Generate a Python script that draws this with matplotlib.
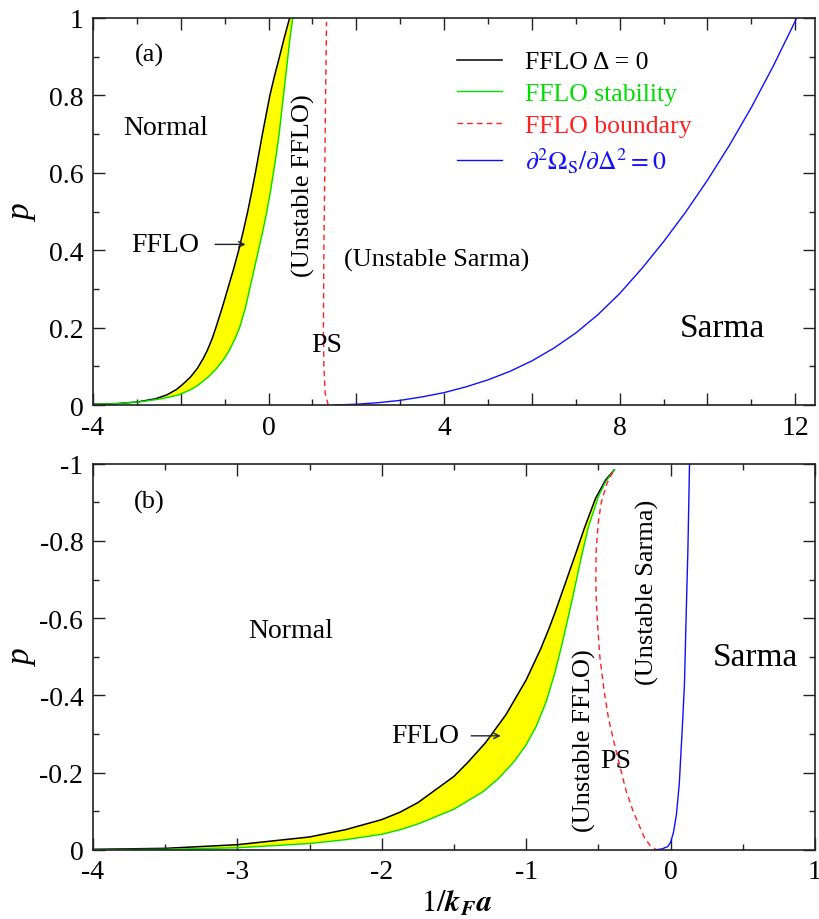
import numpy as np
import matplotlib
matplotlib.use("Agg")
import matplotlib.pyplot as plt
from matplotlib.ticker import MultipleLocator, FuncFormatter

plt.rcParams['font.family'] = ['Liberation Serif', 'DejaVu Serif']
plt.rcParams['mathtext.fontset'] = 'stix'

# ---------------- Panel (a) data ----------------
top_p = [0.002, 0.003, 0.008, 0.016, 0.026, 0.04, 0.052, 0.072, 0.095, 0.12, 0.14, 0.17, 0.2, 0.25,
         0.3, 0.35, 0.4, 0.45, 0.5, 0.55, 0.6, 0.65, 0.7, 0.75, 0.8, 0.85, 0.9, 0.95, 1.0]
top_black_x = [-4.0, -3.5, -2.98, -2.58, -2.32, -2.1, -1.97, -1.78, -1.62, -1.49, -1.40, -1.29, -1.2, -1.06,
               -0.93, -0.80, -0.68, -0.575, -0.475, -0.385, -0.30, -0.22, -0.14, -0.055, 0.03, 0.135, 0.25, 0.36, 0.48]
top_green_x = [-3.95, -3.55, -2.95, -2.45, -2.05, -1.77, -1.6, -1.38, -1.18, -1.01, -0.9, -0.77, -0.66, -0.53,
               -0.43, -0.33, -0.23, -0.13, -0.04, 0.04, 0.11, 0.18, 0.24, 0.29, 0.34, 0.39, 0.44, 0.49, 0.55]
top_red_p = [0.0, 0.03, 0.1, 0.2, 0.4, 0.6, 0.8, 0.99]
top_red_x = [1.36, 1.29, 1.26, 1.25, 1.26, 1.28, 1.30, 1.32]
top_blue_x = [1.5, 2, 2.5, 3, 3.5, 4, 4.5, 5, 5.5, 6, 6.5, 7, 7.5, 8, 8.5, 9, 9.5, 10, 10.5, 11, 11.5, 12, 12.03]
top_blue_p = [0.0, 0.002, 0.006, 0.012, 0.021, 0.032, 0.047, 0.065, 0.087, 0.114, 0.147, 0.186, 0.233, 0.288,
              0.352, 0.422, 0.498, 0.581, 0.671, 0.769, 0.876, 0.992, 1.0]

# ---------------- Panel (b) data ----------------
bot_black_x = [-4.0, -3.5, -3.0, -2.5, -2.25, -2.0, -1.875, -1.75, -1.5, -1.4, -1.28, -1.14, -1.0, -0.9, -0.84,
               -0.8, -0.72, -0.65, -0.6, -0.52, -0.45, -0.39]
bot_black_p = [-0.001, -0.0035, -0.013, -0.033, -0.052, -0.078, -0.097, -0.122, -0.19, -0.228, -0.278, -0.35,
               -0.44, -0.52, -0.575, -0.615, -0.70, -0.775, -0.83, -0.91, -0.958, -0.984]
bot_green_x = [-4.0, -3.5, -3.0, -2.5, -2.25, -2.0, -1.87, -1.74, -1.5, -1.3, -1.19, -1.08, -1.0, -0.93, -0.86,
               -0.8, -0.75, -0.68, -0.62, -0.57, -0.5, -0.45, -0.39]
bot_green_p = [0.0, -0.001, -0.005, -0.016, -0.026, -0.04, -0.052, -0.068, -0.105, -0.15, -0.185, -0.23, -0.272,
               -0.32, -0.385, -0.46, -0.535, -0.65, -0.755, -0.835, -0.915, -0.953, -0.984]
bot_red_x = [-0.40, -0.44, -0.48, -0.50, -0.515, -0.518, -0.515, -0.505, -0.49, -0.46, -0.43, -0.39,
             -0.35, -0.31, -0.26, -0.22, -0.18, -0.14, -0.10]
bot_red_p = [-0.978, -0.95, -0.90, -0.85, -0.78, -0.70, -0.65, -0.58, -0.50, -0.41, -0.34, -0.275,
             -0.215, -0.155, -0.10, -0.065, -0.03, -0.01, 0.0]
bot_blue_x = [-0.10, -0.06, -0.02, 0.0, 0.02, 0.04, 0.06, 0.073, 0.085, 0.096, 0.108, 0.12, 0.131]
bot_blue_p = [0.0, -0.002, -0.008, -0.019, -0.045, -0.09, -0.17, -0.26, -0.345, -0.43, -0.61, -0.78, -1.0]

GREEN = '#00dd00'
RED = '#ff2020'
BLUE = '#1010ff'
SPINE = '#222222'

fig = plt.figure(figsize=(8.19, 9.2), dpi=100)
ax1 = fig.add_axes([93/819, 1-406/920, 722/819, 387/920])
ax2 = fig.add_axes([93/819, 1-850.7/920, 722/819, 386/920])


def fmt(v, pos):
    s = f"{v:.1f}"
    if s.endswith('.0'):
        s = s[:-2]
    if s == '-0':
        s = '0'
    return s


def style(ax):
    for sp in ax.spines.values():
        sp.set_color(SPINE)
        sp.set_linewidth(1.2)
    ax.tick_params(which='both', direction='in', top=True, right=True,
                   colors=SPINE, labelcolor='black', labelsize=20, width=1.0)
    ax.tick_params(which='major', length=8.5, pad=7)
    ax.tick_params(which='minor', length=4.5)
    ax.yaxis.set_major_locator(MultipleLocator(0.2))
    ax.yaxis.set_minor_locator(MultipleLocator(0.1))
    ax.yaxis.set_major_formatter(FuncFormatter(fmt))
    ax.set_ylabel('p', fontsize=24, style='italic', va='center')
    ax.yaxis.set_label_coords(-0.098, 0.5)


# ---------------- Panel (a) ----------------
ax1.fill_betweenx(top_p, top_black_x, top_green_x, color='#ffff00', lw=0)
l1, = ax1.plot(top_black_x, top_p, color='black', lw=1.1, label='FFLO Δ = 0')
l2, = ax1.plot(top_green_x, top_p, color=GREEN, lw=1.0, label='FFLO stability')
l3, = ax1.plot(top_red_x, top_red_p, color=RED, lw=1.0, dashes=(4, 3), label='FFLO boundary')
l4, = ax1.plot(top_blue_x, top_blue_p, color=BLUE, lw=1.0,
               label=r'$\partial^2\Omega_\mathrm{S}/\partial\Delta^2 = 0$')
ax1.set_xlim(-4, 12.45)
ax1.set_ylim(0, 1)
style(ax1)
ax1.xaxis.set_major_locator(MultipleLocator(2))
ax1.xaxis.set_minor_locator(MultipleLocator(1))
ax1.xaxis.set_major_formatter(FuncFormatter(lambda v, p: fmt(v, p) if abs(v) % 4 < 1e-6 else ''))

leg = ax1.legend(handles=[l1, l2, l3, l4], loc='upper left', bbox_to_anchor=(0.504, 0.916),
                 frameon=False, fontsize=18.5, handlelength=1.75, handletextpad=0.9,
                 labelspacing=0.34, borderaxespad=0, borderpad=0, labelcolor='linecolor')

ax1.text(-2.72, 0.907, '(a)', fontsize=19, ha='center', va='center')
ax1.text(-2.35, 0.718, 'Normal', fontsize=20, ha='center', va='center')
ax1.text(-2.35, 0.415, 'FFLO', fontsize=20, ha='center', va='center')
ax1.annotate('', xy=(-0.46, 0.415), xytext=(-1.28, 0.415),
             arrowprops=dict(arrowstyle='->', lw=1.0, color='#222222'))
ax1.text(0.79, 0.57, '(Unstable FFLO)', fontsize=19, rotation=90, ha='center', va='center')
ax1.text(1.33, 0.157, 'PS', fontsize=20, ha='center', va='center')
ax1.text(3.84, 0.377, '(Unstable Sarma)', fontsize=19, ha='center', va='center')
ax1.text(10.33, 0.2, 'Sarma', fontsize=24, ha='center', va='center')

# ---------------- Panel (b) ----------------
ax2.fill(np.r_[bot_black_x, bot_green_x[::-1]], np.r_[bot_black_p, bot_green_p[::-1]],
         color='#ffff00', lw=0)
ax2.plot(bot_black_x, bot_black_p, color='black', lw=1.1)
ax2.plot(bot_green_x, bot_green_p, color=GREEN, lw=1.0)
ax2.plot(bot_red_x, bot_red_p, color=RED, lw=1.0, dashes=(4, 3))
ax2.plot(bot_blue_x, bot_blue_p, color=BLUE, lw=1.0)
ax2.set_xlim(-4, 1)
ax2.set_ylim(0, -1)
style(ax2)
ax2.xaxis.set_major_locator(MultipleLocator(1))
ax2.xaxis.set_minor_locator(MultipleLocator(0.5))
ax2.xaxis.set_major_formatter(FuncFormatter(fmt))
ax2.set_xlabel(r'$1/\mathbfit{k}_{\mathbfit{F}}\mathbfit{a}$', fontsize=22, va='baseline')
ax2.xaxis.set_label_coords(0.503, -0.158)

ax2.text(-3.61, -0.903, '(b)', fontsize=19, ha='center', va='center')
ax2.text(-2.63, -0.567, 'Normal', fontsize=20, ha='center', va='center')
ax2.text(-1.70, -0.295, 'FFLO', fontsize=20, ha='center', va='center')
ax2.annotate('', xy=(-1.157, -0.295), xytext=(-1.40, -0.295),
             arrowprops=dict(arrowstyle='->', lw=1.0, color='#222222'))
ax2.text(-0.596, -0.285, '(Unstable FFLO)', fontsize=19, rotation=90, ha='center', va='center')
ax2.text(-0.377, -0.23, 'PS', fontsize=20, ha='center', va='center')
ax2.text(-0.16, -0.67, '(Unstable Sarma)', fontsize=19, rotation=90, ha='center', va='center')
ax2.text(0.585, -0.5, 'Sarma', fontsize=24, ha='center', va='center')

fig.savefig('out.png', dpi=100)
